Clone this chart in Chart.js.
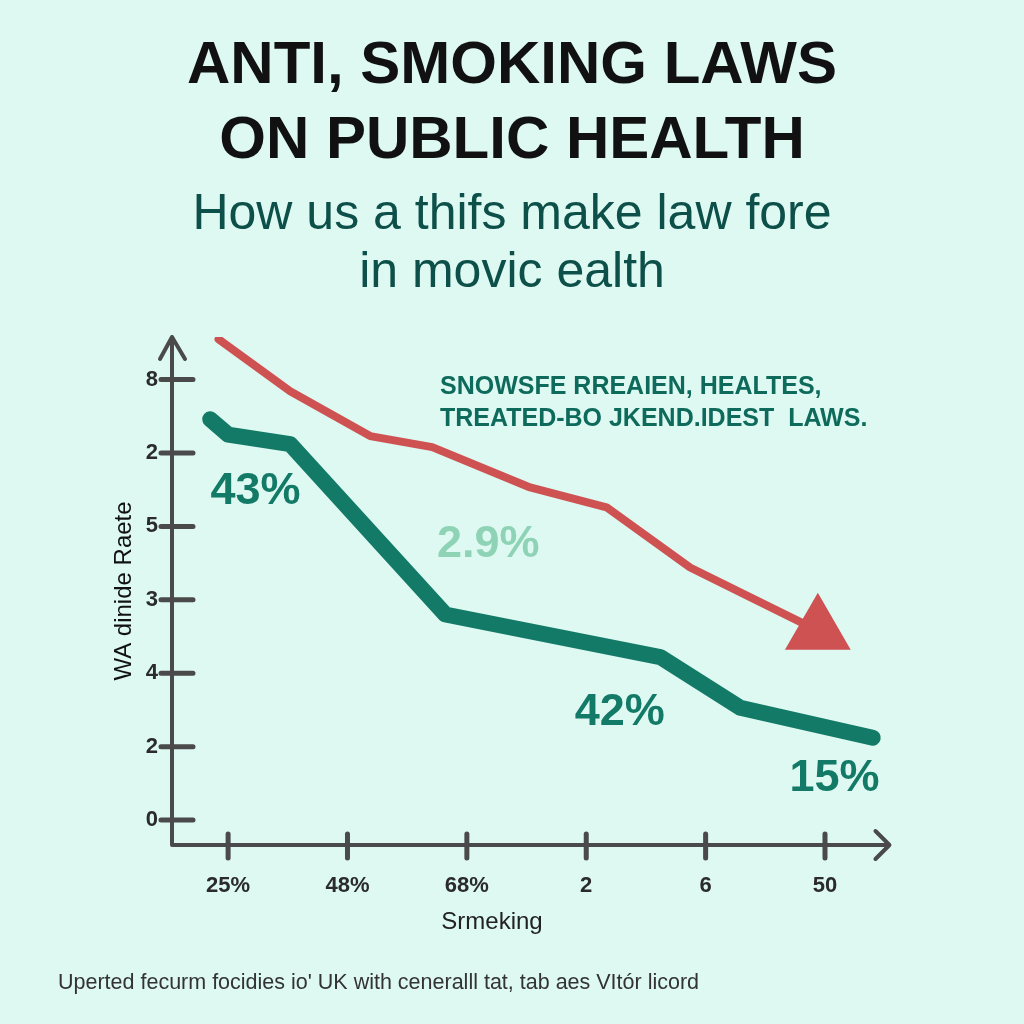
<!DOCTYPE html>
<html>
<head>
<meta charset="utf-8">
<script src="https://cdn.jsdelivr.net/npm/chart.js@4.4.1/dist/chart.umd.min.js"></script>
<style>
  html, body { margin: 0; padding: 0; background: #ddf9f2; }
</style>
</head>
<body>
<canvas id="smoking-chart" width="1024" height="1024"></canvas>
<script>
/* Values */
const xTickLabels = ['25%', '48%', '68%', '2', '6', '50'];
const yTickLabels = ['0', '2', '4', '3', '5', '2', '8'];

const greenX = [-0.15, 0, 0.52, 1.82, 3.62, 4.29, 5.40];
const greenY = [5.46, 5.25, 5.12, 2.80, 2.22, 1.53, 1.12];

const redX = [-0.08, 0.52, 1.19, 1.71, 2.53, 3.17, 3.87, 4.94];
const redY = [6.55, 5.84, 5.23, 5.08, 4.53, 4.26, 3.44, 2.58];

const percentLabels = ['43%', '2.9%', '42%', '15%'];
const noteLines = ['SNOWSFE RREAIEN, HEALTES,', 'TREATED-BO JKEND.IDEST  LAWS.'];
const xTitle = 'Srmeking';
const footerText = "Uperted fecurm focidies io' UK with ceneralll tat, tab aes VItór licord";

// Colours
const BG = '#ddf9f2';
const GREEN = '#127a66';
const RED = '#cf5252';
const AXIS = '#4a4a4a';
const SANS = '"Liberation Sans", Arial, sans-serif';

// where the x axis line stops (axis units)
const X_AXIS_END = 5.54;

const toPoints = (xs, ys) => xs.map((x, i) => ({ x: x, y: ys[i] }));

// paint the background of the canvas
const background = {
  id: 'background',
  beforeDraw(chart) {
    const c = chart.ctx;
    c.save();
    c.fillStyle = BG;
    c.fillRect(0, 0, chart.width, chart.height);
    c.restore();
  }
};

// hand drawn looking axes with arrows and crossing tick marks
const arrowAxes = {
  id: 'arrowAxes',
  beforeDatasetsDraw(chart) {
    const c = chart.ctx;
    const a = chart.chartArea;
    const x = chart.scales.x, y = chart.scales.y;
    const right = x.getPixelForValue(X_AXIS_END);
    c.save();
    c.strokeStyle = AXIS;
    c.lineWidth = 4;
    c.lineCap = 'round';
    c.lineJoin = 'round';
    c.beginPath();
    c.moveTo(a.left, a.bottom);
    c.lineTo(a.left, a.top);
    c.moveTo(a.left, a.bottom);
    c.lineTo(right, a.bottom);
    // arrow heads
    c.moveTo(a.left - 12, a.top + 22);
    c.lineTo(a.left, a.top);
    c.lineTo(a.left + 13, a.top + 22);
    c.moveTo(right - 14, a.bottom - 14);
    c.lineTo(right, a.bottom);
    c.lineTo(right - 14, a.bottom + 14);
    c.stroke();
    c.lineWidth = 5;
    c.beginPath();
    y.ticks.forEach(t => {
      const py = y.getPixelForValue(t.value);
      c.moveTo(a.left - 11, py);
      c.lineTo(a.left + 21, py);
    });
    x.ticks.forEach(t => {
      const px = x.getPixelForValue(t.value);
      c.moveTo(px, a.bottom - 11);
      c.lineTo(px, a.bottom + 13);
    });
    c.stroke();
    c.restore();
  }
};

// percent labels, note, x title and footer
const annotations = {
  id: 'annotations',
  afterDatasetsDraw(chart) {
    const c = chart.ctx;
    const x = chart.scales.x, y = chart.scales.y;
    const spots = [[0.23, 4.47, GREEN], [2.18, 3.75, '#8fd3b6'], [3.28, 1.47, GREEN], [5.08, 0.57, GREEN]];
    c.save();
    c.textAlign = 'center';
    c.textBaseline = 'middle';
    c.font = 'bold 45px ' + SANS;
    percentLabels.forEach((txt, i) => {
      c.fillStyle = spots[i][2];
      c.fillText(txt, x.getPixelForValue(spots[i][0]), y.getPixelForValue(spots[i][1]));
    });

    c.fillStyle = '#222';
    c.font = '24px ' + SANS;
    c.fillText(xTitle, 492, 922);

    c.textAlign = 'left';
    c.fillStyle = '#0e6b5c';
    c.font = 'bold 25px ' + SANS;
    noteLines.forEach((line, i) => c.fillText(line, 440, 387 + i * 32));

    c.fillStyle = '#333';
    c.font = '21.5px ' + SANS;
    c.fillText(footerText, 58, 983);
    c.restore();
  }
};

const config = {
  type: 'line',
  data: {
    datasets: [
      {
        label: 'Green',
        data: toPoints(greenX, greenY),
        borderColor: GREEN,
        borderWidth: 16,
        borderCapStyle: 'round',
        borderJoinStyle: 'round',
        pointRadius: 0,
        tension: 0
      },
      {
        label: 'Red',
        data: toPoints(redX, redY),
        borderColor: RED,
        backgroundColor: RED,
        borderWidth: 8,
        borderCapStyle: 'round',
        borderJoinStyle: 'round',
        pointStyle: 'triangle',
        pointRadius: redX.map((v, i) => i === redX.length - 1 ? 36 : 0),
        pointBorderWidth: 2,
        tension: 0
      }
    ]
  },
  options: {
    responsive: false,
    animation: false,
    layout: { padding: 0, autoPadding: false },
    plugins: {
      legend: { display: false },
      tooltip: { enabled: false },
      title: {
        display: true,
        text: ['ANTI, SMOKING LAWS', 'ON PUBLIC HEALTH'],
        color: '#111',
        font: { family: SANS, size: 60, weight: 'bold', lineHeight: 1.25 },
        padding: { top: 29, bottom: 0 }
      },
      subtitle: {
        display: true,
        text: ['How us a thifs make law fore', 'in movic ealth'],
        color: '#0d4f49',
        font: { family: SANS, size: 50, lineHeight: 1.16 },
        padding: { top: 7, bottom: 35 }
      }
    },
    scales: {
      x: {
        type: 'linear',
        min: -0.47,
        max: 6.667,
        afterBuildTicks: s => { s.ticks = xTickLabels.map((l, i) => ({ value: i })); },
        afterFit: s => { s.height = 179; },
        grid: { display: false, drawTicks: false },
        border: { display: false },
        ticks: {
          autoSkip: false,
          maxRotation: 0,
          padding: 28,
          color: '#2b2b2b',
          font: { family: SANS, size: 22, weight: 'bold' },
          callback: (v, i) => xTickLabels[i]
        },
        title: { display: false }
      },
      y: {
        type: 'linear',
        min: -0.34,
        max: 6.58,
        afterBuildTicks: s => { s.ticks = yTickLabels.map((l, i) => ({ value: i })); },
        afterFit: s => { s.width = 172; },
        grid: { display: false, drawTicks: false },
        border: { display: false },
        ticks: {
          autoSkip: false,
          padding: 14,
          color: '#2b2b2b',
          font: { family: SANS, size: 22, weight: 'bold' },
          callback: (v, i) => yTickLabels[i]
        },
        title: {
          display: true,
          text: 'WA dinide Raete',
          color: '#111',
          font: { family: SANS, size: 24 },
          padding: 110
        }
      }
    }
  },
  plugins: [background, arrowAxes, annotations]
};

// Chart Activation
let ctx = document.getElementById('smoking-chart').getContext('2d');
let smokingChart = new Chart(ctx, config);
</script>
</body>
</html>
